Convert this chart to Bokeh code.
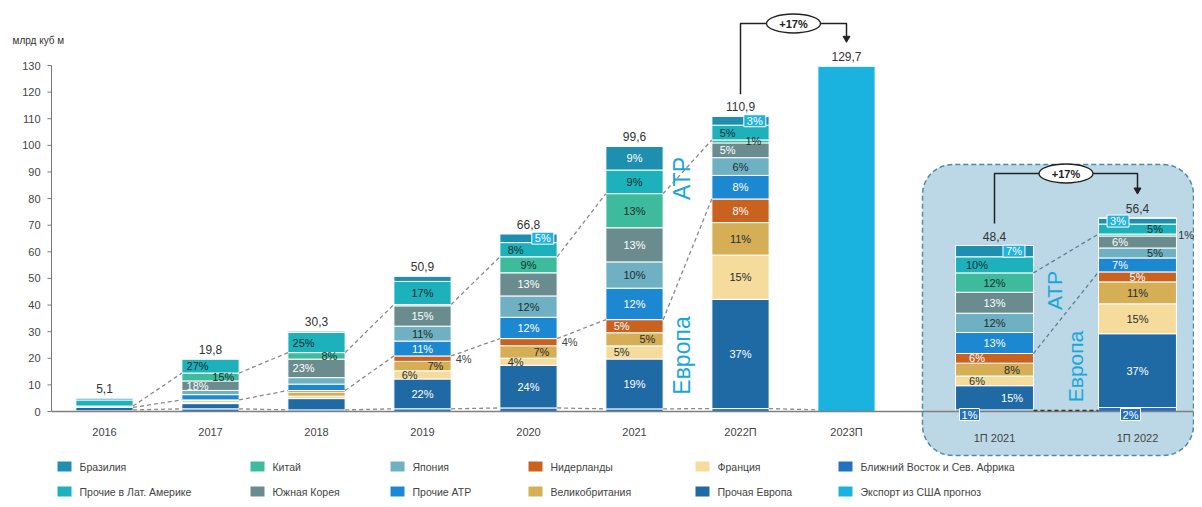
import math
import numpy as np
from bokeh.plotting import figure
from bokeh.models import Range1d, ColumnDataSource
from bokeh.core.properties import value
from bokeh.embed import file_html
from bokeh.resources import INLINE

# ---------------- data ----------------
years = ["2016", "2017", "2018", "2019", "2020", "2021", "2022П", "2023П"]
totals = [5.1, 19.8, 30.3, 50.9, 66.8, 99.6, 110.9, 129.7]
total_labels = ["5,1", "19,8", "30,3", "50,9", "66,8", "99,6", "110,9", "129,7"]
half_years = ["1П 2021", "1П 2022"]
half_totals = [48.4, 56.4]
half_total_labels = ["48,4", "56,4"]
growth_label = "+17%"
y_ticks = [0, 10, 20, 30, 40, 50, 60, 70, 80, 90, 100, 110, 120, 130]
unit_label = "млрд куб м"

series_keys = ["mena", "eur", "fra", "uk", "nld", "apac", "jpn", "kor", "chn", "latam", "bra", "usx"]
series_names = {
    "bra": "Бразилия", "latam": "Прочие в Лат. Америке", "chn": "Китай", "kor": "Южная Корея",
    "jpn": "Япония", "apac": "Прочие АТР", "nld": "Нидерланды", "uk": "Великобритания",
    "fra": "Франция", "eur": "Прочая Европа", "mena": "Ближний Восток и Сев. Африка",
    "usx": "Экспорт из США прогноз",
}
colors = {
    "bra": "#1f8fb0", "latam": "#1cb1bb", "chn": "#3dbb9c", "kor": "#6a8c8f",
    "jpn": "#6fb0c2", "apac": "#1c88d2", "nld": "#c9621f", "uk": "#d5ae55",
    "fra": "#f6dc9c", "eur": "#1f69a5", "mena": "#2571c0", "usx": "#1ab3e0",
}

# shares, % of each year's total (2016 ... 2023П), bottom to top
mena  = [5, 5, 2, 2, 2, 1, 1, 0]
eur   = [25, 10, 14, 22, 24, 19, 37, 0]
fra   = [0, 3, 3, 6, 4, 5, 15, 0]
uk    = [0, 3, 5, 7, 7, 5, 11, 0]
nld   = [0, 1, 2, 4, 4, 5, 8, 0]
apac  = [0, 10, 8, 11, 12, 12, 8, 0]
jpn   = [0, 8, 8, 11, 12, 10, 6, 0]
kor   = [0, 18, 23, 15, 13, 13, 5, 0]
chn   = [10, 15, 8, 1, 9, 13, 1, 0]
latam = [45, 27, 25, 17, 8, 9, 5, 0]
bra   = [15, 0, 2, 4, 5, 9, 3, 0]
usx   = [0, 0, 0, 0, 0, 0, 0, 100]

# shares, % for 1П 2021 and 1П 2022
h_mena  = [1, 2]
h_eur   = [15, 37]
h_fra   = [6, 15]
h_uk    = [8, 11]
h_nld   = [6, 5]
h_apac  = [13, 7]
h_jpn   = [12, 5]
h_kor   = [13, 6]
h_chn   = [12, 1]
h_latam = [10, 5]
h_bra   = [7, 3]
h_usx   = [0, 0]

shares = dict(mena=mena, eur=eur, fra=fra, uk=uk, nld=nld, apac=apac, jpn=jpn, kor=kor,
              chn=chn, latam=latam, bra=bra, usx=usx)
h_shares = dict(mena=h_mena, eur=h_eur, fra=h_fra, uk=h_uk, nld=h_nld, apac=h_apac, jpn=h_jpn,
                kor=h_kor, chn=h_chn, latam=h_latam, bra=h_bra, usx=h_usx)

legend_rows = [["bra", "chn", "jpn", "nld", "fra", "mena"],
               ["latam", "kor", "apac", "uk", "eur", "usx"]]

# ---------------- layout (pixels) ----------------
FONT = "Liberation Sans"
FIG_W, FIG_H = 1194, 499
AXIS_X = 51           # x of the value axis
X0, XS = 104, 106.0   # x of first category, px per category
Y0 = 411              # y of zero
YS = 346 / 130.0      # px per unit, main chart
YS2 = 166 / 48.4      # px per unit, inset chart
BAR_W = 0.54
H_BAR_W = 0.735
H_X_PX = [994, 1137]


def xd(px):
    return (px - X0) / XS


def yd(py):
    return (Y0 - py) / YS


def yi(py):
    return (Y0 - py) / YS2


p = figure(width=FIG_W, height=FIG_H, output_backend="svg", toolbar_location=None,
           x_range=Range1d(xd(0), xd(FIG_W)), y_range=Range1d(yd(FIG_H), yd(0)),
           x_axis_location=None, y_axis_location=None,
           min_border_left=0, min_border_right=0, min_border_top=0, min_border_bottom=0)
p.extra_y_ranges = {"inset": Range1d(yi(FIG_H), yi(0))}
p.outline_line_color = None
p.xgrid.visible = False
p.ygrid.visible = False
p.background_fill_color = "white"

# ---------------- value axis ----------------
p.line([xd(AXIS_X), xd(AXIS_X)], [0, y_ticks[-1]], line_color="#7a7a7a", line_width=1)
p.segment(x0=[xd(AXIS_X - 4)] * len(y_ticks), y0=y_ticks, x1=[xd(AXIS_X)] * len(y_ticks),
          y1=y_ticks, line_color="#7a7a7a", line_width=1)
p.text(x=[xd(AXIS_X - 11)] * len(y_ticks), y=y_ticks, text=[str(t) for t in y_ticks],
       text_font=value(FONT), text_font_size="11px", text_color="#444444",
       text_align="right", text_baseline="middle")
p.text(x=[xd(12)], y=[yd(40)], text=[unit_label], text_font=value(FONT),
       text_font_size="10px", text_color="#333333", text_baseline="middle")

# ---------------- inset panel background ----------------
def rounded_rect(x0, y0, x1, y1, r, n=10):
    pts = []
    corners = [(x1 - r, y0 + r, -90, 0), (x1 - r, y1 - r, 0, 90),
               (x0 + r, y1 - r, 90, 180), (x0 + r, y0 + r, 180, 270)]
    for cx, cy, a0, a1 in corners:
        for t in np.linspace(a0, a1, n):
            pts.append((cx + r * math.cos(math.radians(t)), cy + r * math.sin(math.radians(t))))
    pts.append(pts[0])
    return [xd(a) for a, _ in pts], [yd(b) for _, b in pts]

bx, by = rounded_rect(922, 164, 1193, 455, 30)
p.patch(bx, by, fill_color="#bcd8e6", line_color="#4f8aa8", line_width=1.5, line_dash="5 3")

# ---------------- main stacked bars ----------------
n = len(years)
vals = {}
for i in range(n):
    s = sum(shares[k][i] for k in series_keys)
    for k in series_keys:
        vals.setdefault(k, []).append(shares[k][i] / s * totals[i])
src = ColumnDataSource(dict(x=list(range(n)), **vals))
p.vbar_stack(series_keys, x="x", width=BAR_W, color=[colors[k] for k in series_keys],
             line_color="white", line_width=1, source=src)

hx = [xd(v) for v in H_X_PX]
hvals = {}
for i in range(2):
    s = sum(h_shares[k][i] for k in series_keys)
    for k in series_keys:
        hvals.setdefault(k, []).append(h_shares[k][i] / s * half_totals[i])
hsrc = ColumnDataSource(dict(x=hx, **hvals))
p.vbar_stack(series_keys, x="x", width=H_BAR_W, color=[colors[k] for k in series_keys],
             line_color="white", line_width=1, source=hsrc, y_range_name="inset")


def bounds(vdict, count):
    lo, hi = {}, {}
    run = np.zeros(count)
    for k in series_keys:
        v = np.array(vdict[k])
        lo[k] = run.copy()
        run = run + v
        hi[k] = run.copy()
    return lo, hi

lo, hi = bounds(vals, n)
hlo, hhi = bounds(hvals, 2)

# baseline
p.line([xd(AXIS_X), xd(1193)], [0, 0], line_color="#7f7f7f", line_width=1.5)

# ---------------- dashed connectors ----------------
xs, ys = [], []
for lvl, last in ((hi["nld"], 6), (hi["chn"], 6), (hi["mena"], 7)):
    for i in range(last):
        xs.append([i + BAR_W / 2, i + 1 - BAR_W / 2])
        ys.append([max(lvl[i], 0.6), max(lvl[i + 1], 0.6)])
p.multi_line(xs, ys, line_color="#8a8a8a", line_width=1.3, line_dash="4 3")

hxs, hys = [], []
for lvl in (hhi["nld"], hhi["chn"]):
    hxs.append([hx[0] + H_BAR_W / 2, hx[1] - H_BAR_W / 2])
    hys.append([lvl[0], lvl[1]])
p.multi_line(hxs, hys, line_color="#5a7f95", line_width=1.3, line_dash="4 3", y_range_name="inset")
p.line([hx[0] + H_BAR_W / 2, hx[1] - H_BAR_W / 2], [0.3, 0.3], line_color="#333333",
       line_width=1.5, line_dash="4 3", y_range_name="inset")

# ---------------- segment labels ----------------
light_text = {"eur", "apac", "kor", "bra", "nld", "mena"}
DARK = "#1d2d30"


def shown(k, i):
    if k in ("mena", "usx") or i == 0 or i == 7:
        return False
    if i in (1, 2):
        return k in ("kor", "chn", "latam")
    return (k, i) not in {("bra", 3), ("chn", 3)}

nudge = {("latam", 1): "L", ("chn", 1): "R", ("kor", 1): "L",
         ("latam", 2): "L", ("chn", 2): "R", ("kor", 2): "L",
         ("fra", 3): "L", ("uk", 3): "R", ("nld", 3): "O",
         ("fra", 4): "L", ("uk", 4): "R", ("nld", 4): "O", ("latam", 4): "L", ("bra", 4): "B",
         ("fra", 5): "L", ("uk", 5): "R", ("nld", 5): "L",
         ("latam", 6): "L", ("bra", 6): "B", ("chn", 6): "R", ("kor", 6): "L"}
h_nudge = {("bra", 0): "B", ("latam", 0): "L", ("nld", 0): "L", ("uk", 0): "R", ("fra", 0): "L",
           ("eur", 0): "R", ("bra", 1): "BL", ("latam", 1): "R", ("chn", 1): "O", ("kor", 1): "L",
           ("jpn", 1): "R", ("apac", 1): "L"}


def place(code, cx, half):
    off = {"L": -0.45, "R": 0.45, "B": 0.5, "BL": -0.5, "O": 1.25}.get(code, 0)
    return cx + off * half

box_x, box_y, box_t, box_r = [], [], [], []
lab = dict(x=[], y=[], t=[], c=[])
hlab = dict(x=[], y=[], t=[], c=[])
for k in series_keys:
    for i in range(n):
        if not shown(k, i):
            continue
        code = nudge.get((k, i), "C")
        x = place(code, i, BAR_W / 2)
        if code == "O":
            x = place(code, i, BAR_W / 2 * 1.15)
        y = (lo[k][i] + hi[k][i]) / 2
        t = f"{shares[k][i]}%"
        if code == "B":
            box_x.append(x); box_y.append(y); box_t.append(t); box_r.append("main")
        else:
            lab["x"].append(x); lab["y"].append(y); lab["t"].append(t)
            lab["c"].append("#444444" if code == "O" else ("white" if k in light_text else DARK))
    for i in range(2):
        if k in ("usx", "mena"):
            continue
        code = h_nudge.get((k, i), "C")
        t = f"{h_shares[k][i]}%"
        x = place(code, hx[i], H_BAR_W / 2)
        y = (hlo[k][i] + hhi[k][i]) / 2
        if code in ("B", "BL"):
            box_x.append(x); box_y.append(y); box_t.append(t); box_r.append("inset")
        else:
            hlab["x"].append(x); hlab["y"].append(y); hlab["t"].append(t)
            hlab["c"].append("#333333" if code == "O" else ("white" if k in light_text else DARK))

common = dict(text_font=value(FONT), text_font_size="11px", text_align="center",
              text_baseline="middle")
p.text(x=lab["x"], y=lab["y"], text=lab["t"], text_color=lab["c"], **common)
p.text(x=hlab["x"], y=hlab["y"], text=hlab["t"], text_color=hlab["c"], y_range_name="inset", **common)

for rng in ("main", "inset"):
    bxs = [x for x, r in zip(box_x, box_r) if r == rng]
    bys = [y for y, r in zip(box_y, box_r) if r == rng]
    bts = [t for t, r in zip(box_t, box_r) if r == rng]
    kw = {} if rng == "main" else {"y_range_name": "inset"}
    p.rect(x=bxs, y=bys, width=22, height=12, width_units="screen", height_units="screen",
           fill_color="#22b2de", line_color="white", line_width=1, **kw)
    p.text(x=bxs, y=bys, text=bts, text_color="white", **common, **kw)

# inset: Middle East shares shown on the baseline
mx = [hx[0] - 25 / XS, hx[1] - 7 / XS]
my = [yi(414), yi(414)]
mt = [f"{v}%" for v in h_mena]
p.rect(x=mx, y=my, width=20, height=12, width_units="screen", height_units="screen",
       fill_color=colors["mena"], line_color="white", line_width=1, y_range_name="inset")
p.text(x=mx, y=my, text=mt, text_color="white", y_range_name="inset", **common)

# ---------------- totals & category labels ----------------
tot_kw = dict(text_font=value(FONT), text_font_size="12px", text_align="center",
              text_baseline="bottom", text_color="#333333", y_offset=-5)
p.text(x=list(range(n)), y=totals, text=total_labels, **tot_kw)
p.text(x=hx, y=half_totals, text=half_total_labels, y_range_name="inset", **tot_kw)

cat_kw = dict(text_font=value(FONT), text_font_size="11px", text_align="center",
              text_baseline="middle", text_color="#444444")
p.text(x=list(range(n)), y=[yd(431)] * n, text=years, **cat_kw)
p.text(x=hx, y=[yd(437)] * 2, text=half_years, **cat_kw)

# ---------------- region labels ----------------
reg_kw = dict(text_font=value(FONT), text_align="center", text_baseline="middle",
              text_color="#1aa6d8", angle=math.pi / 2)
p.text(x=[xd(681), xd(681)], y=[yd(178), yd(355)], text=["АТР", "Европа"],
       text_font_size="23px", **reg_kw)
p.text(x=[xd(1054), xd(1075)], y=[yi(290), yi(366)], text=["АТР", "Европа"],
       text_font_size="21px", y_range_name="inset", **reg_kw)

# ---------------- growth brackets ----------------
def bracket(x_a, x_b, top_a, top_b, y_bar, ys, **kw):
    ya = top_a + 22 / ys
    yb = top_b + 30 / ys
    p.line([x_a, x_a, x_b, x_b], [ya, y_bar, y_bar, yb], line_color="#222222", line_width=1.5, **kw)
    p.scatter([x_b], [yb - 2 / ys], marker="inverted_triangle", size=7, color="#222222", **kw)
    xm = (x_a + x_b) / 2
    p.ellipse([xm], [y_bar], width=54, height=19, width_units="screen", height_units="screen",
              fill_color="white", line_color="#222222", line_width=1.3, **kw)
    p.text([xm], [y_bar], text=[growth_label], text_font=value(FONT), text_font_size="11px",
           text_font_style="bold", text_align="center", text_baseline="middle",
           text_color="#222222", **kw)

bracket(6, 7, totals[6], totals[7], yd(23), YS)
bracket(hx[0], hx[1], half_totals[0], half_totals[1], yi(173), YS2, y_range_name="inset")

# ---------------- legend ----------------
col_px = [57, 250, 390, 528, 695, 838]
row_px = [466, 491]
lx, ly, lc, tx, ty, tt = [], [], [], [], [], []
for r, row in enumerate(legend_rows):
    for c, k in enumerate(row):
        lx.append(xd(col_px[c] + 7)); ly.append(yd(row_px[r])); lc.append(colors[k])
        tx.append(xd(col_px[c] + 22)); ty.append(yd(row_px[r])); tt.append(series_names[k])
p.rect(x=lx, y=ly, width=14, height=10, width_units="screen", height_units="screen",
       fill_color=lc, line_color=None)
p.text(x=tx, y=ty, text=tt, text_font=value(FONT), text_font_size="10.5px",
       text_baseline="middle", text_color="#444444")

open("out.html", "w").write(file_html(p, INLINE))
